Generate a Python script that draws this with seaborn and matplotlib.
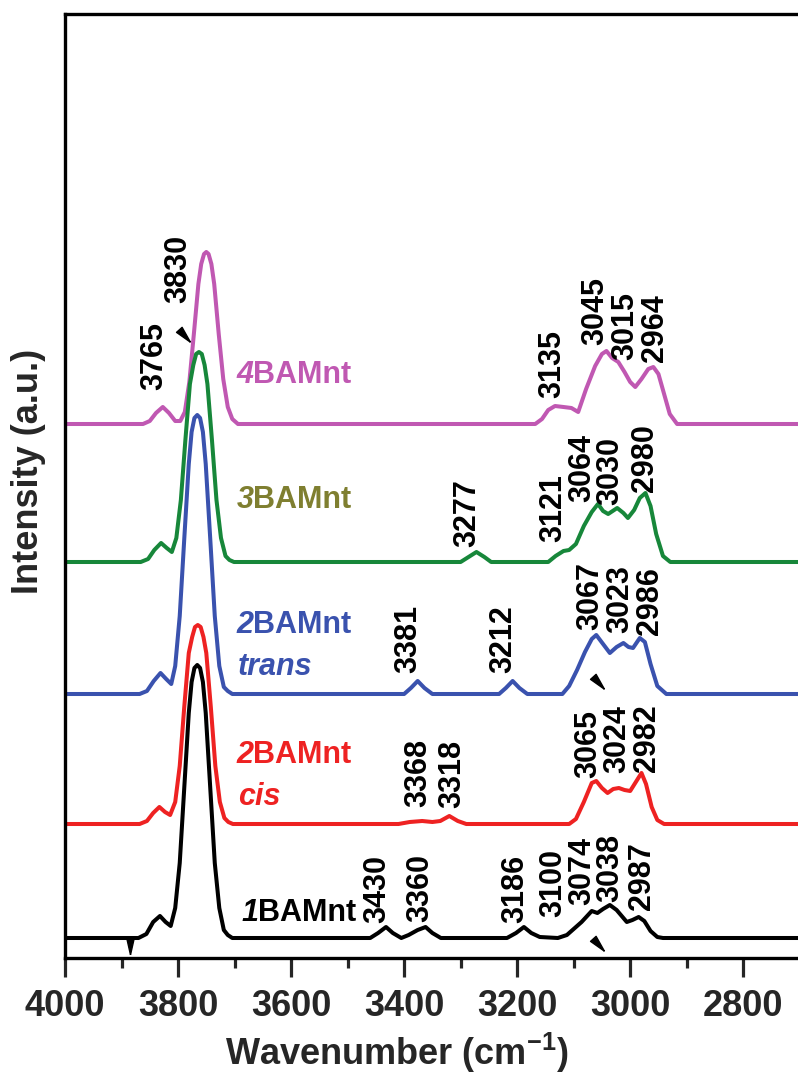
import matplotlib
matplotlib.use("Agg")
import numpy as np
import pandas as pd
import matplotlib.pyplot as plt
import seaborn as sns
from matplotlib.ticker import MultipleLocator
from matplotlib.markers import MarkerStyle
from matplotlib.transforms import Affine2D

# ---------------- data ----------------
samples = ["4BAMnt", "3BAMnt", "2BAMnt trans", "2BAMnt cis", "1BAMnt"]

wn_4 = [4000, 3862, 3850, 3839, 3827, 3816, 3805, 3796, 3788, 3780, 3772, 3764, 3759, 3754, 3750,
        3746, 3741, 3736, 3728, 3720, 3712, 3704, 3694, 3168, 3156, 3145, 3133, 3118, 3104, 3092,
        3078, 3062, 3050, 3042, 3032, 3021, 3010, 3000, 2991, 2980, 2968, 2959, 2950, 2940, 2930,
        2917, 2650]
int_4 = [0, 0, 3, 11, 17, 11, 3, 3, 12, 42, 90, 140, 160, 170, 172,
         170, 160, 140, 90, 45, 17, 5, 0, 0, 5, 14, 18, 17, 16, 12,
         35, 58, 70, 73, 66, 62, 52, 42, 37, 45, 55, 57, 50, 30, 10,
         0, 0]

wn_3 = [4000, 3866, 3853, 3842, 3830, 3820, 3811, 3803, 3795, 3787, 3779, 3773, 3768, 3763, 3758,
        3753, 3748, 3740, 3732, 3724, 3716, 3709, 3701, 3300, 3286, 3272, 3258, 3246, 3145, 3132,
        3118, 3108, 3096, 3082, 3068, 3057, 3048, 3039, 3023, 3012, 3004, 2993, 2983, 2973, 2964,
        2954, 2942, 2929, 2650]
int_3 = [0, 0, 3, 12, 19, 14, 10, 24, 62, 122, 178, 197, 208, 210, 208,
         197, 178, 122, 62, 24, 6, 2, 0, 0, 5, 10, 5, 0, 0, 6,
         11, 12, 18, 36, 50, 58, 51, 48, 54, 49, 44, 52, 64, 69, 56,
         28, 6, 0, 0]

wn_2t = [4000, 3868, 3855, 3843, 3831, 3821, 3812, 3805, 3797, 3789, 3781, 3776, 3771, 3766, 3761,
         3756, 3751, 3743, 3735, 3727, 3719, 3712, 3704, 3400, 3388, 3376, 3364, 3350, 3232, 3220,
         3208, 3196, 3182, 3120, 3108, 3094, 3080, 3068, 3060, 3048, 3036, 3024, 3012, 3003, 2995,
         2983, 2974, 2964, 2952, 2936, 2650]
int_2t = [0, 0, 3, 13, 21, 15, 10, 28, 78, 155, 230, 262, 276, 279, 276,
          262, 230, 155, 78, 28, 7, 3, 0, 0, 6, 13, 6, 0, 0, 6,
          13, 6, 0, 0, 8, 24, 42, 55, 59, 50, 41, 47, 51, 47, 46,
          56, 52, 30, 8, 0, 0]

wn_2c = [4000, 3868, 3855, 3844, 3833, 3823, 3814, 3805, 3797, 3789, 3781, 3775, 3770, 3765, 3760,
         3755, 3750, 3742, 3734, 3726, 3718, 3711, 3703, 3410, 3390, 3368, 3350, 3336, 3320, 3305,
         3290, 3108, 3096, 3082, 3068, 3060, 3050, 3040, 3030, 3020, 3010, 3000, 2990, 2980, 2972,
         2962, 2952, 2940, 2650]
int_2c = [0, 0, 3, 11, 17, 12, 9, 22, 58, 117, 171, 187, 197, 199, 197,
          187, 171, 117, 58, 22, 6, 2, 0, 0, 2, 3, 2, 3, 8, 3,
          0, 0, 5, 22, 41, 43, 36, 31, 35, 36, 34, 33, 42, 51, 40,
          17, 4, 0, 0]

wn_1 = [4000, 3870, 3856, 3844, 3832, 3822, 3813, 3805, 3797, 3789, 3781, 3776, 3771, 3766, 3761,
        3756, 3751, 3743, 3735, 3727, 3719, 3712, 3704, 3460, 3446, 3432, 3420, 3405, 3392, 3376,
        3362, 3350, 3335, 3218, 3202, 3188, 3175, 3160, 3128, 3112, 3096, 3086, 3068, 3058, 3048,
        3036, 3024, 3006, 2996, 2985, 2975, 2964, 2952, 2942, 2650]
int_1 = [0, 0, 4, 16, 22, 16, 12, 30, 75, 150, 225, 256, 270, 273, 270,
         256, 225, 150, 75, 30, 8, 3, 0, 0, 5, 11, 5, 0, 3, 8,
         11, 5, 0, 0, 5, 11, 5, 1, 0, 3, 11, 16, 27, 25, 29,
         33, 28, 16, 18, 21, 17, 7, 1, 0, 0]

# peak labels: (text, wavenumber position, bottom of text in intensity units)
peak_labels_4 = [("3765", 3842, 568), ("3830", 3800, 655), ("3135", 3138, 560),
                 ("3045", 3062, 613), ("3015", 3009, 598), ("2964", 2956, 596)]
peak_labels_3 = [("3277", 3288, 411), ("3121", 3136, 416), ("3064", 3085, 456),
                 ("3030", 3035, 453), ("2980", 2973, 466)]
peak_labels_2t = [("3381", 3393, 285), ("3212", 3225, 285), ("3067", 3071, 328),
                  ("3023", 3018, 325), ("2986", 2965, 323)]
peak_labels_2c = [("3368", 3375, 151), ("3318", 3315, 150), ("3065", 3074, 180),
                  ("3024", 3023, 185), ("2982", 2970, 186)]
peak_labels_1 = [("3430", 3448, 35), ("3360", 3372, 36), ("3186", 3204, 35),
                 ("3100", 3136, 41), ("3074", 3085, 53), ("3038", 3035, 56), ("2987", 2979, 48)]

xticks = [4000, 3800, 3600, 3400, 3200, 3000, 2800]

# ---------------- layout / style ----------------
offsets = {"4BAMnt": 534, "3BAMnt": 396, "2BAMnt trans": 264, "2BAMnt cis": 134, "1BAMnt": 20}
line_colors = {"4BAMnt": "#C058B2", "3BAMnt": "#17873A", "2BAMnt trans": "#3A52AE",
               "2BAMnt cis": "#EE2222", "1BAMnt": "#000000"}

sns.set_style("white")
plt.rcParams["font.family"] = ["Liberation Sans", "DejaVu Sans"]
plt.rcParams["mathtext.fontset"] = "custom"
plt.rcParams["mathtext.rm"] = "Liberation Sans"
plt.rcParams["mathtext.bf"] = "Liberation Sans:bold"

series = {"4BAMnt": (wn_4, int_4), "3BAMnt": (wn_3, int_3), "2BAMnt trans": (wn_2t, int_2t),
          "2BAMnt cis": (wn_2c, int_2c), "1BAMnt": (wn_1, int_1)}
frames = []
for s in samples:
    w, i = series[s]
    frames.append(pd.DataFrame({"wn": w, "y": np.asarray(i, float) + offsets[s], "sample": s}))
df = pd.concat(frames, ignore_index=True)

fig = plt.figure(figsize=(7.98, 10.86), dpi=100)
ax = fig.add_axes([65 / 798, 128 / 1086, 763 / 798, 944 / 1086])

sns.lineplot(data=df, x="wn", y="y", hue="sample", hue_order=samples, palette=line_colors,
             sort=False, estimator=None, legend=False, linewidth=2.9, ax=ax)
for ln in ax.lines:
    ln.set_solid_joinstyle("round")

ax.set_xlim(4000, 2650)
ax.set_ylim(0, 944)
ax.set_xticks(xticks)
ax.xaxis.set_minor_locator(MultipleLocator(100))
ax.set_yticks([])
ax.tick_params(axis="x", which="major", direction="out", length=14, width=2.3, pad=8,
               labelsize=26, bottom=True)
ax.tick_params(axis="x", which="minor", direction="out", length=7, width=2.3, bottom=True)
for lab in ax.get_xticklabels():
    lab.set_fontweight("bold")
for sp in ax.spines.values():
    sp.set_linewidth(2.4)
    sp.set_color("black")

ax.set_xlabel(r"Wavenumber (cm$^{\mathbf{-1}}$)", fontsize=26, fontweight="bold")
ax.xaxis.set_label_coords(0.435, -0.077)
ax.set_ylabel("Intensity (a.u.)", fontsize=26, fontweight="bold")
ax.yaxis.set_label_coords(-0.025, 0.515)

# peak labels
for group in [peak_labels_4, peak_labels_3, peak_labels_2t, peak_labels_2c, peak_labels_1]:
    for txt, w, yb in group:
        ax.text(w, yb, txt, rotation=90, ha="center", va="bottom", fontsize=22,
                fontweight="bold", color="black")

# sample labels
label_specs = [("4", "BAMnt", None, 3696, 583, "#C058B2"),
               ("3", "BAMnt", None, 3696, 458, "#7F7F30"),
               ("2", "BAMnt", "trans", 3696, 333, "#3A52AE"),
               ("2", "BAMnt", "cis", 3696, 203, "#EE2222"),
               ("1", "BAMnt", None, 3687, 45, "#000000")]
for num, rest, sub, x0, y0, c in label_specs:
    t = ax.text(x0, y0, num, style="italic", fontweight="bold", fontsize=22, color=c,
                ha="left", va="center")
    ax.annotate(rest, xy=(0.93, 0), xycoords=t, ha="left", va="bottom", fontsize=22,
                fontweight="bold", color=c)
    if sub:
        ax.text(x0 - 2, y0 - 42, sub, style="italic", fontweight="bold", fontsize=22, color=c,
                ha="left", va="center")

# arrowheads
verts = [(0, -1), (-0.36, 0.6), (0.36, 0.6), (0, -1)]
arrows = [(3791, 624, 42), (3058, 277, 42), (3058, 15, 42), (3885, 14, 0)]
for w, yy, ang in arrows:
    ms = MarkerStyle(verts, transform=Affine2D().rotate_deg(ang))
    ax.plot([w], [yy], marker=ms, markersize=15, color="black", linestyle="none")

fig.savefig("out.png", dpi=100)
